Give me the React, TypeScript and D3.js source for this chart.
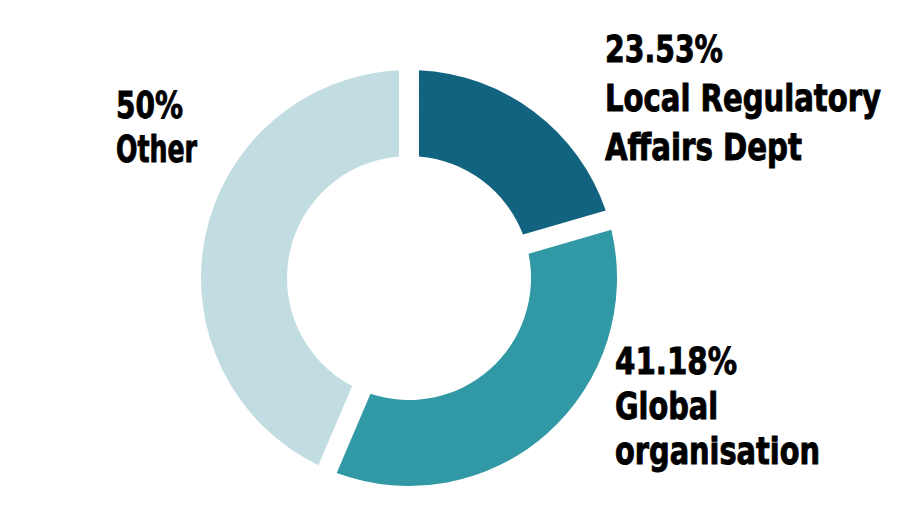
import React from "react";
import * as d3 from "d3";

const categories = ["Local Regulatory Affairs Dept", "Global organisation", "Other"];
const values = [23.53, 41.18, 50];
const valueLabels = ["23.53%", "41.18%", "50%"];
const nameLines = [["Local Regulatory", "Affairs Dept"], ["Global", "organisation"], ["Other"]];
const colors = ["#12637f", "#3198a6", "#c2dde1"];

const W = 922;
const H = 520;
const CX = 409;
const CY = 278;
const R_OUT = 208;
const R_IN = 122;
const SX = 0.8;

// label layout: left x, first baseline, line spacing, and fitted widths per line
const labelLayout = [
  { x: 605, y: 62, dy: 49, widths: [118, 276, 197] },
  { x: 615, y: 374, dy: 45, widths: [122, 103, 205] },
  { x: 116, y: 118, dy: 44, widths: [67, 81] },
];

export default function App() {
  const pie = d3.pie<number>().sort(null).value((d) => d).startAngle(0).endAngle(2 * Math.PI);
  const arcs = pie(values);
  const arc = d3
    .arc<d3.PieArcDatum<number>>()
    .innerRadius(R_IN)
    .outerRadius(R_OUT)
    .padAngle(0.2)
    .padRadius(100);

  return (
    <svg
      width={W}
      height={H}
      viewBox={`0 0 ${W} ${H}`}
      style={{ position: "absolute", left: 0, top: 0, background: "#fff" }}
    >
      <g transform={`translate(${CX},${CY})`}>
        {arcs.map((a, i) => (
          <path key={categories[i]} d={arc(a) || ""} fill={colors[i]} />
        ))}
      </g>
      {categories.map((c, i) => {
        const L = labelLayout[i];
        const lines = [valueLabels[i], ...nameLines[i]];
        return (
          <g key={c}>
            {lines.map((t, j) => (
              <text
                key={j}
                transform={`translate(${L.x},${L.y + j * L.dy}) scale(${SX},1)`}
                textLength={L.widths[j] / SX}
                lengthAdjust="spacingAndGlyphs"
                fontFamily="'Liberation Sans Narrow', 'DejaVu Sans Condensed', 'Liberation Sans', sans-serif"
                fontWeight={700}
                fontSize={37.5}
                fill="#000"
                stroke="#000"
                strokeWidth={0.9}
              >
                {t}
              </text>
            ))}
          </g>
        );
      })}
    </svg>
  );
}
